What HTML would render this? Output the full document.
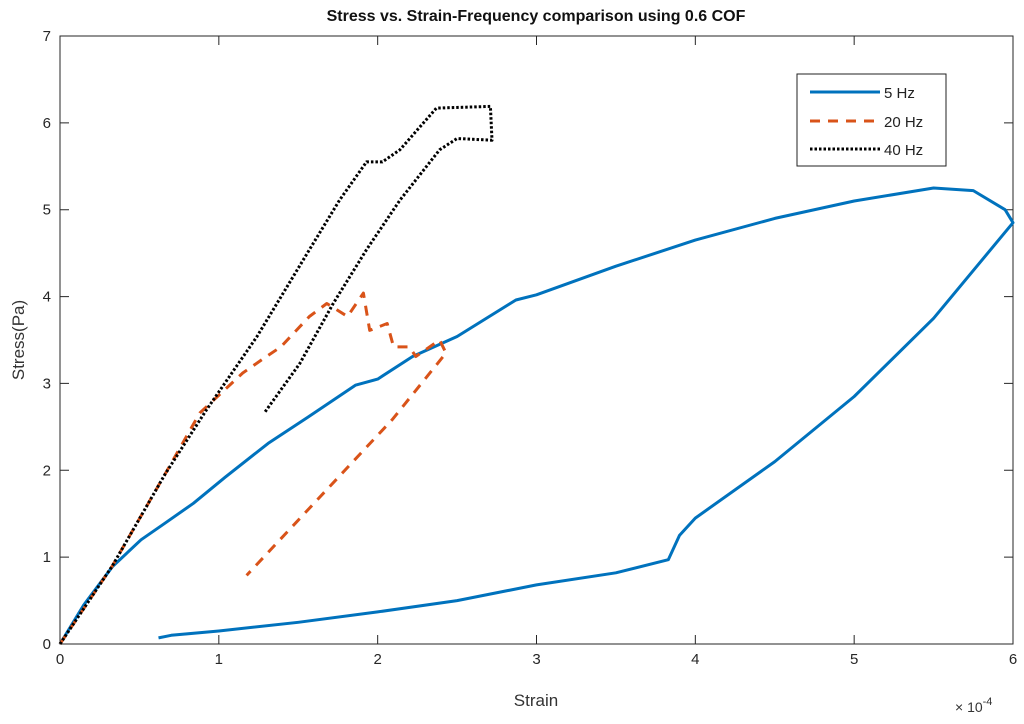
<!DOCTYPE html>
<html><head><meta charset="utf-8"><style>
body{margin:0;background:#fff;}
svg text{font-family:"Liberation Sans",sans-serif;}
</style></head><body>
<svg id="chart" width="1024" height="719" xmlns="http://www.w3.org/2000/svg">
<rect width="1024" height="719" fill="#fff"/>
<text x="536" y="21" text-anchor="middle" font-size="16" font-weight="bold" fill="#111">Stress vs. Strain-Frequency comparison using 0.6 COF</text>
<g id="axes"></g>
<g id="series"></g>
<text x="536" y="706" text-anchor="middle" font-size="17" fill="#333">Strain</text>
<text transform="translate(24,340) rotate(-90)" text-anchor="middle" font-size="17" fill="#333">Stress(Pa)</text>
<text x="955" y="712" font-size="14" fill="#333">× 10<tspan font-size="11" dy="-7">-4</tspan></text>
<g>
<rect x="797" y="74" width="149" height="92" fill="#fff" stroke="#222" stroke-width="1"/>
<line x1="810" y1="92" x2="880" y2="92" stroke="#0072BD" stroke-width="3"/>
<text x="884" y="98" font-size="15" fill="#222">5 Hz</text>
<line x1="810" y1="121" x2="880" y2="121" stroke="#D95319" stroke-width="3" stroke-dasharray="10,8"/>
<text x="884" y="127" font-size="15" fill="#222">20 Hz</text>
<line x1="810" y1="149" x2="880" y2="149" stroke="#000" stroke-width="3" stroke-dasharray="2.5,2"/>
<text x="884" y="155" font-size="15" fill="#222">40 Hz</text>
</g>
</svg>
<script>
const xTicks=[0,1,2,3,4,5,6];
const yTicks=[0,1,2,3,4,5,6,7];
const hz5X=[0,0.15,0.33,0.51,0.66,0.84,1.04,1.31,1.56,1.86,2.0,2.22,2.5,2.87,3.0,3.5,4.0,4.5,5.0,5.5,5.75,5.95,6.0,5.5,5.0,4.5,4.0,3.9,3.83,3.5,3.0,2.5,2.0,1.5,1.0,0.7,0.62];
const hz5Y=[0,0.45,0.89,1.2,1.39,1.62,1.92,2.31,2.61,2.98,3.05,3.31,3.54,3.96,4.02,4.35,4.65,4.9,5.1,5.25,5.22,5.0,4.85,3.75,2.85,2.1,1.45,1.25,0.97,0.82,0.68,0.5,0.37,0.25,0.15,0.1,0.07];
const hz20X=[0,0.33,0.66,0.88,1.15,1.30,1.39,1.57,1.68,1.81,1.91,1.95,2.06,2.10,2.20,2.24,2.39,2.43,2.09,1.175];
const hz20Y=[0,0.9,1.95,2.66,3.12,3.31,3.42,3.77,3.92,3.77,4.04,3.61,3.69,3.42,3.42,3.31,3.50,3.35,2.58,0.79];
const hz40X=[0,0.33,0.66,0.92,1.24,1.57,1.76,1.93,2.03,2.14,2.37,2.71,2.72,2.50,2.39,2.14,1.93,1.72,1.51,1.29];
const hz40Y=[0,0.9,1.95,2.69,3.54,4.54,5.11,5.55,5.55,5.69,6.17,6.19,5.80,5.82,5.69,5.11,4.54,3.92,3.23,2.67];
const NS='http://www.w3.org/2000/svg';
const L=60,R=1013,T=36,B=644;
const sx=v=>L+(v-0)/6*(R-L);
const sy=v=>B-(v-0)/7*(B-T);
const axes=document.getElementById('axes');
function mk(tag,attrs,parent){const e=document.createElementNS(NS,tag);for(const k in attrs)e.setAttribute(k,attrs[k]);parent.appendChild(e);return e;}
const box=mk('rect',{x:L,y:T,width:R-L,height:B-T,fill:'none',stroke:'#262626','stroke-width':1},axes);


xTicks.forEach(t=>{
  const x=sx(t);
  const l=mk('path',{d:`M${x},${B}v-9M${x},${T}v9`,stroke:'#262626'},axes);
  
  
  const tx=mk('text',{x:x,y:B+20,'text-anchor':'middle','font-size':15,fill:'#262626'},axes);
  tx.textContent=t;
  
  
});
yTicks.forEach(t=>{
  const y=sy(t);
  const l=mk('path',{d:`M${L},${y}h9M${R},${y}h-9`,stroke:'#262626'},axes);
  
  
  const tx=mk('text',{x:L-9,y:y+5,'text-anchor':'end','font-size':15,fill:'#262626'},axes);
  tx.textContent=t;
  
  
});
const series=document.getElementById('series');
function line(xs,ys,color,dash,name){
  const d=xs.map((v,i)=>(i?'L':'M')+sx(v).toFixed(1)+','+sy(ys[i]).toFixed(1)).join('');
  const p=mk('path',{d:d,fill:'none',stroke:color,'stroke-width':3,'stroke-linejoin':'round'},series);
  if(dash)p.setAttribute('stroke-dasharray',dash);
  
  
}
line(hz5X,hz5Y,'#0072BD',null,'series-5hz');
line(hz20X,hz20Y,'#D95319','10,8','series-20hz');
line(hz40X,hz40Y,'#000','2.5,2','series-40hz');
</script>
</body></html>
